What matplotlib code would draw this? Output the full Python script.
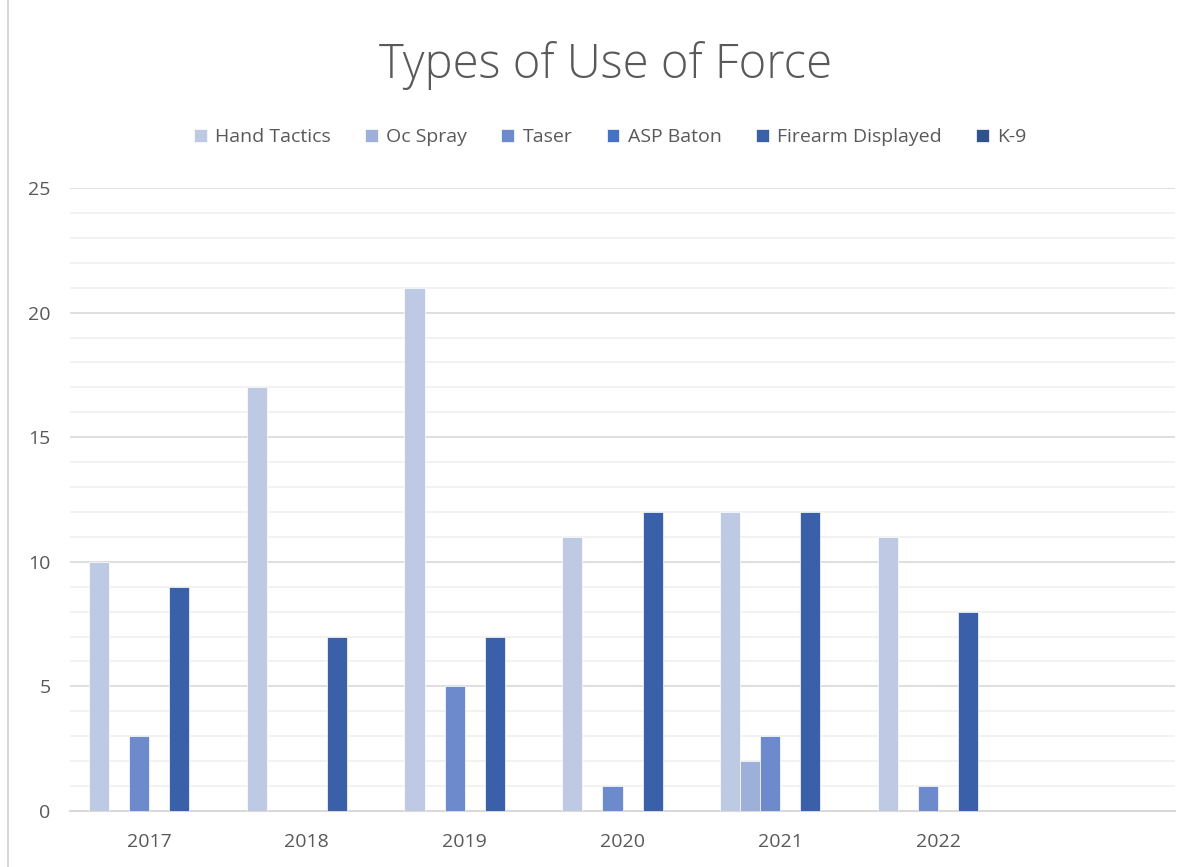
import matplotlib
matplotlib.use("Agg")
from matplotlib import pyplot as plt
import numpy as np

years = ['2017', '2018', '2019', '2020', '2021', '2022', '']
series = ['Hand Tactics', 'Oc Spray', 'Taser', 'ASP Baton', 'Firearm Displayed', 'K-9']
hand_tactics = [10, 17, 21, 11, 12, 11, 0]
oc_spray = [0, 0, 0, 0, 2, 0, 0]
taser = [3, 0, 5, 1, 3, 1, 0]
asp_baton = [0, 0, 0, 0, 0, 0, 0]
firearm = [9, 7, 7, 12, 12, 8, 0]
k9 = [0, 0, 0, 0, 0, 0, 0]
colors = ['#BEC9E4', '#9EAFDA', '#6D8ACD', '#4472C4', '#3A60A9', '#2F528F']

plt.rcParams['font.family'] = ['Open Sans', 'DejaVu Sans']

fig = plt.figure(figsize=(11.92, 8.67), dpi=100)
ax = fig.add_axes([70/1192, 1 - 811/867, 1105/1192, 623/867])

x = np.arange(len(years))
w = 0.127
data = [hand_tactics, oc_spray, taser, asp_baton, firearm, k9]
for i, (name, vals) in enumerate(zip(series, data)):
    ax.bar(x - 3 * w + w * (i + 0.5), vals, w, color=colors[i], label=name,
           edgecolor='white', linewidth=0.5, zorder=3)

ax.set_xlim(-0.5, len(years) - 0.5)
ax.set_ylim(0, 25)
ax.set_yticks(range(0, 26, 5))
ax.set_yticks(range(0, 26), minor=True)
ax.set_xticks(x)
ax.set_xticklabels(years)
ax.grid(axis='y', which='major', color='#D9D9D9', linewidth=1.2, zorder=0)
ax.grid(axis='y', which='minor', color='#F0F0F0', linewidth=1.2, zorder=0)
ax.tick_params(axis='both', which='both', length=0, labelsize=14, colors='#595959')
ax.tick_params(axis='x', pad=16)
ax.tick_params(axis='y', pad=14)
for s in ['top', 'right', 'left']:
    ax.spines[s].set_visible(False)
ax.spines['bottom'].set_color('#D9D9D9')
ax.spines['bottom'].set_linewidth(1.5)

fig.text(0.508, 1 - 65/867, 'Types of Use of Force', ha='center', va='center',
         fontsize=34, color='#595959', fontweight='light')
fig.legend(loc='center', bbox_to_anchor=(0.512, 1 - 137/867), ncol=6, frameon=False,
           fontsize=14, labelcolor='#595959', handlelength=0.65, handleheight=0.65,
           handletextpad=0.45, columnspacing=1.75)

# chart border on the left
fig.add_artist(plt.Line2D([8/1192, 8/1192], [0, 1], color='#D9D9D9', linewidth=1.5))

fig.savefig('out.png', dpi=100)
